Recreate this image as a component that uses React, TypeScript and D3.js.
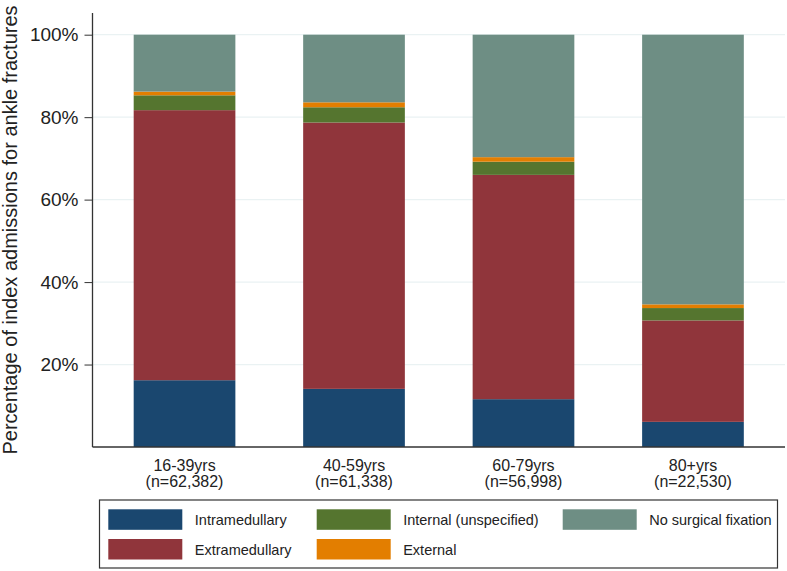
import React, { useEffect, useRef } from 'react';
import * as d3 from 'd3';

// Age groups and their sample sizes
const ageGroups = ['16-39yrs', '40-59yrs', '60-79yrs', '80+yrs'];
const groupNs = ['(n=62,382)', '(n=61,338)', '(n=56,998)', '(n=22,530)'];

// Percentages per fixation type
const intramedullary = [16.2, 14.1, 11.6, 6.1];
const extramedullary = [65.5, 64.6, 54.4, 24.6];
const internalUnspecified = [3.6, 3.7, 3.2, 3.0];
const external = [0.9, 1.2, 1.1, 0.9];
const noFixation = [13.8, 16.4, 29.7, 65.4];

const seriesKeys = ['Intramedullary', 'Extramedullary', 'Internal (unspecified)', 'External', 'No surgical fixation'];
const seriesValues = [intramedullary, extramedullary, internalUnspecified, external, noFixation];
const seriesColors = ['#1a476f', '#90353b', '#55752f', '#e37e00', '#6e8e84'];

const yTicks = [20, 40, 60, 80, 100];

const W = 787;
const H = 571;
const FONT = '"Liberation Sans", Arial, sans-serif';

export default function App() {
  const svgRef = useRef<SVGSVGElement | null>(null);

  useEffect(() => {
    if (!svgRef.current) return;
    const svg = d3.select(svgRef.current);
    svg.selectAll('*').remove();

    const left = 92.5;
    const right = 785;
    const bottom = 447;
    const top = 34.7;

    const x = d3.scaleBand<string>()
      .domain(ageGroups)
      .range([left, right])
      .paddingInner(0.4)
      .paddingOuter(0.243);

    const y = d3.scaleLinear().domain([0, 100]).range([bottom, top]);

    // Table built from the arrays for d3.stack
    const rows = ageGroups.map((g, i) => {
      const r: Record<string, any> = { group: g };
      seriesKeys.forEach((k, j) => { r[k] = seriesValues[j][i]; });
      return r;
    });
    const stacked = d3.stack<any>().keys(seriesKeys)(rows);

    // gridlines
    svg.append('g')
      .selectAll('line')
      .data(yTicks)
      .enter()
      .append('line')
      .attr('x1', left)
      .attr('x2', right)
      .attr('y1', d => y(d))
      .attr('y2', d => y(d))
      .attr('stroke', '#eaf2f3')
      .attr('stroke-width', 1.2);

    // bars
    const layers = svg.append('g')
      .selectAll('g')
      .data(stacked)
      .enter()
      .append('g')
      .attr('fill', (_, i) => seriesColors[i]);

    layers.selectAll('rect')
      .data(d => d)
      .enter()
      .append('rect')
      .attr('x', d => x(d.data.group)!)
      .attr('width', x.bandwidth())
      .attr('y', d => y(d[1]))
      .attr('height', d => y(d[0]) - y(d[1]));

    // axes
    const yAxis = d3.axisLeft(y)
      .tickValues(yTicks)
      .tickFormat(d => `${d}%`)
      .tickSize(8)
      .tickPadding(6)
      .tickSizeOuter(0);

    const gy = svg.append('g')
      .attr('transform', `translate(${left},0)`)
      .call(yAxis);
    gy.select('.domain').remove();
    gy.selectAll('line').attr('stroke', '#333').attr('stroke-width', 1);
    gy.selectAll('text')
      .attr('fill', '#222')
      .style('font-size', '19px')
      .style('font-family', FONT);

    svg.append('line')
      .attr('x1', left).attr('x2', left)
      .attr('y1', 13).attr('y2', bottom)
      .attr('stroke', '#333').attr('stroke-width', 1.3);
    svg.append('line')
      .attr('x1', left).attr('x2', right)
      .attr('y1', bottom).attr('y2', bottom)
      .attr('stroke', '#333').attr('stroke-width', 1.3);

    // x category labels (two lines)
    const xl = svg.append('g')
      .selectAll('text')
      .data(ageGroups)
      .enter()
      .append('text')
      .attr('text-anchor', 'middle')
      .attr('fill', '#222')
      .style('font-size', '16px')
      .style('font-family', FONT);
    xl.append('tspan')
      .attr('x', d => x(d)! + x.bandwidth() / 2)
      .attr('y', 471)
      .text(d => d);
    xl.append('tspan')
      .attr('x', d => x(d)! + x.bandwidth() / 2)
      .attr('y', 486.5)
      .text((_, i) => groupNs[i]);

    // y title
    svg.append('text')
      .attr('transform', `translate(17,230) rotate(-90)`)
      .attr('text-anchor', 'middle')
      .attr('fill', '#222')
      .style('font-size', '20px')
      .style('font-family', FONT)
      .text('Percentage of index admissions for ankle fractures');

    // legend
    const legend = svg.append('g');
    legend.append('rect')
      .attr('x', 99.5).attr('y', 500)
      .attr('width', 678).attr('height', 68)
      .attr('fill', '#fff')
      .attr('stroke', '#333')
      .attr('stroke-width', 1.2);

    const colX = [108.3, 316.7, 562.7];
    const rowY = [509.3, 539];
    const order = [0, 2, 4, 1, 3]; // row-wise: col1 row1, col2 row1, col3 row1, col1 row2, col2 row2
    order.forEach((s, pos) => {
      const cx = colX[pos % 3];
      const ry = rowY[Math.floor(pos / 3)];
      legend.append('rect')
        .attr('x', cx).attr('y', ry)
        .attr('width', 74).attr('height', 20.5)
        .attr('fill', seriesColors[s]);
      legend.append('text')
        .attr('x', cx + 86.5)
        .attr('y', ry + 15.5)
        .attr('fill', '#222')
        .style('font-size', '14.5px')
        .style('font-family', FONT)
        .text(seriesKeys[s]);
    });
  }, []);

  return (
    <div style={{ position: 'fixed', left: 0, top: 0, width: W, height: H, background: '#fff' }}>
      <svg ref={svgRef} width={W} height={H} style={{ display: 'block' }} />
    </div>
  );
}
